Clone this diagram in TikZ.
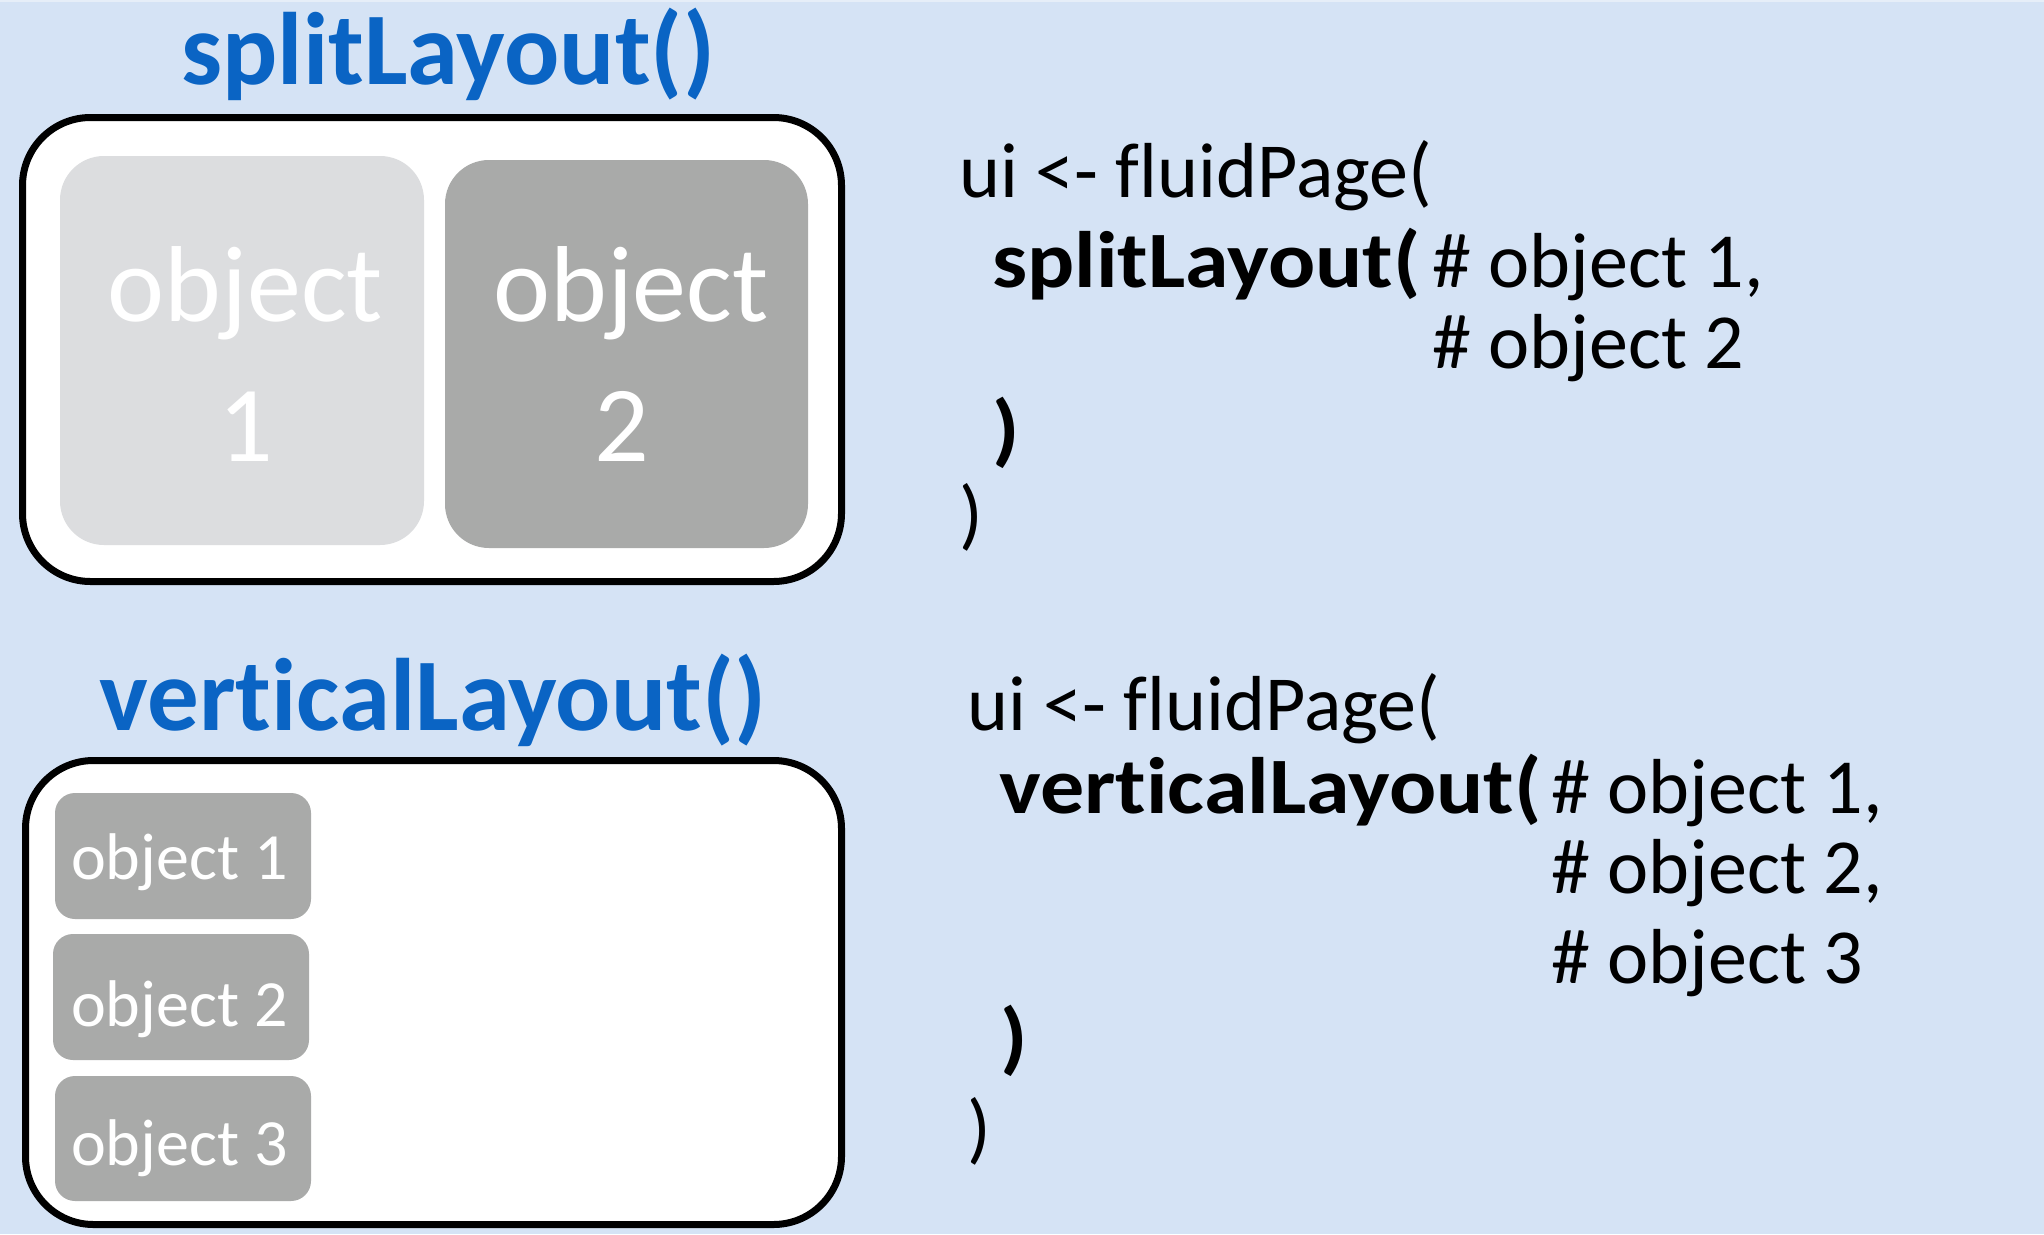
\documentclass[tikz,border=0pt]{standalone}
\usepackage{fontspec}
\setmainfont{Carlito}[Ligatures=NoCommon]
\definecolor{bgblue}{HTML}{D5E3F5}
\definecolor{edgeblue}{HTML}{E6EEF8}
\definecolor{ttlblue}{HTML}{0A64C4}
\definecolor{lightgr}{HTML}{DCDDDF}
\definecolor{darkgr}{HTML}{A9AAA9}
\newcommand{\brk}{\kern0pt }
\tikzset{
  outerbox/.style={draw=black, line width=7pt, fill=white, rounded corners=68pt, inner sep=0},
  bigobj/.style={rounded corners=44pt, inner sep=0},
  smallobj/.style={fill=darkgr, rounded corners=20pt, inner sep=0, minimum width=256pt},
  ttl/.style={font=\fontsize{103}{110}\selectfont\bfseries, text=ttlblue, anchor=base, inner sep=0},
  bigtxt/.style={font=\fontsize{108}{120}\selectfont, text=white, anchor=base, inner sep=0},
  smalltxt/.style={font=\fontsize{66}{70}\selectfont, text=white, anchor=base west, inner sep=0},
  codetxt/.style={font=\fontsize{78}{90}\selectfont, text=black, anchor=base west, inner sep=0},
  codebold/.style={font=\fontsize{80}{90}\selectfont\bfseries, text=black, anchor=base west, inner sep=0, xscale=1.1, transform shape}
}
\begin{document}
\begin{tikzpicture}[x=1pt,y=-1pt]
\fill[bgblue] (0,0) rectangle (2044,1234);
\fill[edgeblue] (0,0) rectangle (2044,2);
\useasboundingbox (0,0) rectangle (2044,1234);

% splitLayout panel
\node[ttl] (t1) at (448,84) {splitLayout()};
\node[outerbox, minimum width=819pt, minimum height=464pt] (box1) at (432,349.5) {};
\node[bigobj, fill=lightgr, minimum width=364pt, minimum height=389pt] (o1) at (242,350.5) {};
\node[bigobj, fill=darkgr, minimum width=363pt, minimum height=388pt] (o2) at (626.5,354) {};
\node[bigtxt] (o1a) at (245.5,321.5) {object};
\node[bigtxt] (o1b) at (245.5,461) {1};
\node[bigtxt] (o2a) at (631,321.5) {object};
\node[bigtxt] (o2b) at (622,461) {2};

% verticalLayout panel
\node[ttl] (t2) at (433,730) {vert\brk icalLayout()};
\node[outerbox, minimum width=816pt, minimum height=464pt] (box2) at (433.5,992.5) {};
\node[smallobj, minimum height=126pt] (v1) at (183,856) {};
\node[smallobj, minimum height=126pt] (v2) at (181,997) {};
\node[smallobj, minimum height=125pt] (v3) at (183,1138.5) {};
\node[smalltxt] (v1t) at (71,879) {object 1};
\node[smalltxt] (v2t) at (71,1026) {object 2};
\node[smalltxt] (v3t) at (71,1165) {object 3};

% code block 1
\node[codetxt] (c1) at (959,197) {ui <- fluidPage(};
\node[codebold] (c2) at (992,287) {splitLayout(};
\node[codetxt] (c3) at (1432,287) {\# object 1,};
\node[codetxt] (c4) at (1432,368) {\# object 2};
\node[codebold] (c5) at (992,456) {)};
\node[codetxt] (c6) at (959,540) {)};

% code block 2
\node[codetxt] (d1) at (967,730) {ui <- fluidPage(};
\node[codebold] (d2) at (999,813) {vert\brk icalLayout(};
\node[codetxt] (d3) at (1551,813) {\# object 1,};
\node[codetxt] (d4) at (1551,893) {\# object 2,};
\node[codetxt] (d5) at (1551,983) {\# object 3};
\node[codebold] (d6) at (1000,1064) {)};
\node[codetxt] (d7) at (967,1154) {)};
\end{tikzpicture}
\end{document}
